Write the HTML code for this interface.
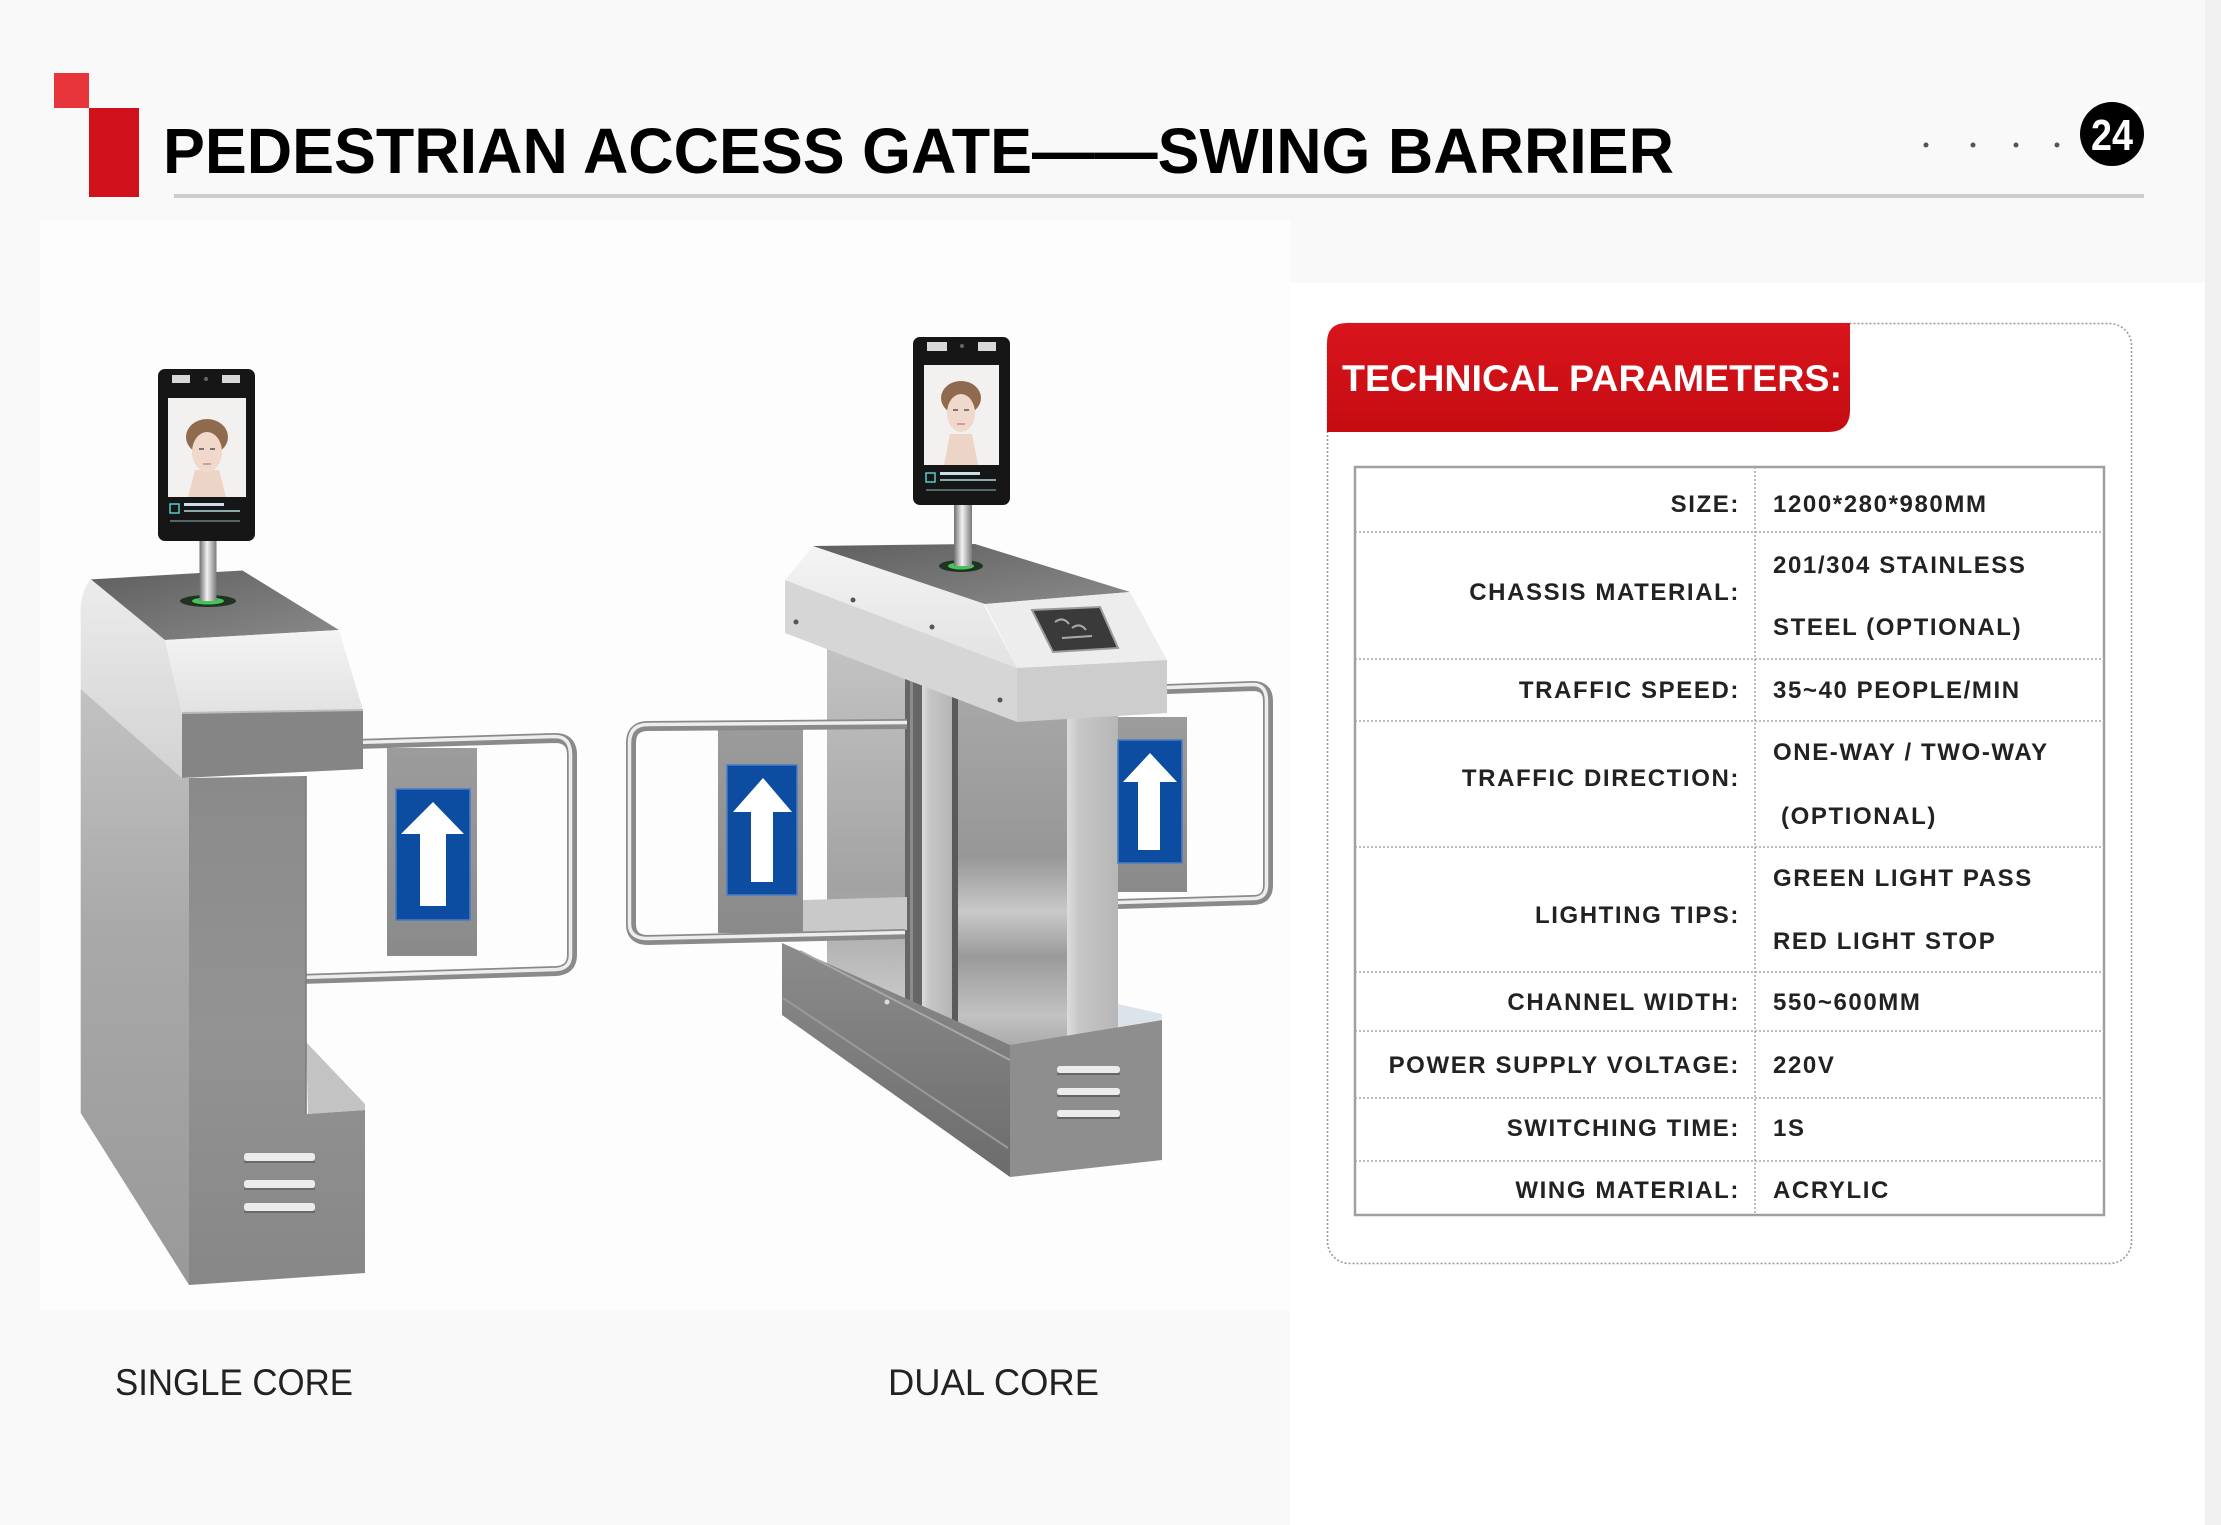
<!DOCTYPE html>
<html><head><meta charset="utf-8"><style>
html,body{margin:0;padding:0;background:#f9f9f9;}
svg{display:block;}
text{font-family:"Liberation Sans",Arial,sans-serif;}
</style></head><body>
<svg xmlns="http://www.w3.org/2000/svg" width="2221" height="1525" viewBox="0 0 2221 1525">
<defs>
<linearGradient id="gPole" x1="0" y1="0" x2="1" y2="0"><stop offset="0" stop-color="#6f6f6f"/><stop offset="0.45" stop-color="#f2f2f2"/><stop offset="1" stop-color="#7a7a7a"/></linearGradient>
<linearGradient id="gTop" x1="0" y1="0" x2="1" y2="1"><stop offset="0" stop-color="#5f5f5f"/><stop offset="1" stop-color="#8a8a8a"/></linearGradient>
<linearGradient id="gHouseL" x1="0" y1="579" x2="0" y2="780" gradientUnits="userSpaceOnUse"><stop offset="0" stop-color="#ececec"/><stop offset="1" stop-color="#d2d2d2"/></linearGradient>
<linearGradient id="gPillL" x1="0" y1="690" x2="0" y2="1285" gradientUnits="userSpaceOnUse"><stop offset="0" stop-color="#c2c2c2"/><stop offset="0.4" stop-color="#a9a9a9"/><stop offset="1" stop-color="#999"/></linearGradient>
<linearGradient id="gFront" x1="0" y1="776" x2="0" y2="1285" gradientUnits="userSpaceOnUse"><stop offset="0" stop-color="#8a8a8a"/><stop offset="0.5" stop-color="#939393"/><stop offset="1" stop-color="#878787"/></linearGradient>
<linearGradient id="gSlant" x1="0" y1="0" x2="0" y2="1"><stop offset="0" stop-color="#f4f4f4"/><stop offset="1" stop-color="#e2e2e2"/></linearGradient>
<linearGradient id="gPanel" x1="0" y1="0" x2="0" y2="1"><stop offset="0" stop-color="#9c9c9c"/><stop offset="1" stop-color="#8a8a8a"/></linearGradient>
<linearGradient id="gBig" x1="0" y1="690" x2="0" y2="1060" gradientUnits="userSpaceOnUse"><stop offset="0" stop-color="#a8a8a8"/><stop offset="0.45" stop-color="#979797"/><stop offset="0.6" stop-color="#c9c9c9"/><stop offset="0.72" stop-color="#9a9a9a"/><stop offset="0.88" stop-color="#c2c2c2"/><stop offset="1" stop-color="#a0a0a0"/></linearGradient>
<linearGradient id="gBack" x1="0" y1="640" x2="0" y2="1000" gradientUnits="userSpaceOnUse"><stop offset="0" stop-color="#c4c4c4"/><stop offset="0.7" stop-color="#a2a2a2"/><stop offset="1" stop-color="#c8c8c8"/></linearGradient>
<linearGradient id="gPost" x1="0" y1="0" x2="1" y2="0"><stop offset="0" stop-color="#dcdcdc"/><stop offset="0.25" stop-color="#c6c6c6"/><stop offset="1" stop-color="#b6b6b6"/></linearGradient>
<linearGradient id="gBaseL" x1="0" y1="943" x2="0" y2="1177" gradientUnits="userSpaceOnUse"><stop offset="0" stop-color="#8c8c8c"/><stop offset="1" stop-color="#6c6c6c"/></linearGradient>
<linearGradient id="gRed" x1="0" y1="0" x2="0" y2="1"><stop offset="0" stop-color="#d9141c"/><stop offset="1" stop-color="#c50c12"/></linearGradient>
</defs>

<!-- background -->
<rect x="0" y="0" width="2221" height="1525" fill="#f9f9f9"/>
<rect x="40" y="220" width="1250" height="1090" fill="#fdfdfd"/>
<rect x="1290" y="283" width="915" height="1242" fill="#ffffff"/>
<rect x="2205" y="0" width="16" height="1525" fill="#f0f0f0"/>

<!-- header -->
<rect x="54" y="73" width="35" height="35" fill="#e8353b"/>
<rect x="89" y="108" width="50" height="89" fill="#d0111b"/>
<text x="163" y="173" font-size="64" font-weight="bold" fill="#000" textLength="1511" lengthAdjust="spacingAndGlyphs">PEDESTRIAN ACCESS GATE——SWING BARRIER</text>
<rect x="174" y="194" width="1970" height="4" fill="#cdcdcd"/>
<circle cx="1926" cy="145" r="2.5" fill="#555"/>
<circle cx="1973" cy="145" r="2.5" fill="#555"/>
<circle cx="2016" cy="145" r="2.5" fill="#555"/>
<circle cx="2057" cy="145" r="2.5" fill="#555"/>
<circle cx="2112" cy="134" r="32" fill="#000"/>
<text x="2112" y="150" font-size="44" font-weight="bold" fill="#fff" text-anchor="middle" textLength="42" lengthAdjust="spacingAndGlyphs">24</text>
<text x="2135" y="118" font-size="18" font-weight="bold" fill="#fff">'</text>

<!-- ===== SINGLE CORE GATE ===== -->
<!-- arm -->
<path d="M355,744 L555,738 Q572,738 572,755 L572,955 Q572,970 556,971 L300,979" fill="none" stroke="#8a8a8a" stroke-width="10" stroke-linejoin="round"/>
<path d="M355,742.5 L555,736.5 Q570.5,736.5 570.5,755 L570.5,955 Q570.5,968.5 556,969.5 L300,977.5" fill="none" stroke="#ededed" stroke-width="3.5"/>
<rect x="387" y="748" width="90" height="208" fill="url(#gPanel)"/>
<rect x="396" y="789" width="74" height="131" fill="#0c4da2" stroke="#4a7cc4" stroke-width="1.5"/>
<polygon points="433,802 464,834 446,834 446,906 420,906 420,834 401,834" fill="#fff"/>

<!-- body -->
<path d="M91,579 L165,640 L182,713 L182,778 L80.7,689 L80.7,621 Q79,592 91,579 Z" fill="url(#gHouseL)"/>
<polygon points="80.7,689 182,778 189,778 189,1285 80.7,1113" fill="url(#gPillL)"/>
<polygon points="91,579.4 242.5,570.5 339,630 165,640" fill="url(#gTop)"/>
<polygon points="165,640 339,630 363,710 182,713" fill="url(#gSlant)"/>
<polygon points="182,713 363,710 363,769 182,778" fill="#858585"/>
<line x1="182" y1="713" x2="363" y2="710" stroke="#bcbcbc" stroke-width="2"/>
<polygon points="189,778 306,776 306,1114 365,1110 365,1273 189,1285" fill="url(#gFront)"/>
<polygon points="306,1042 365,1104 365,1110 308,1114" fill="#c3c3c3"/>
<line x1="306" y1="776" x2="306" y2="1114" stroke="#7a7a7a" stroke-width="1.5"/>
<rect x="244" y="1153" width="71" height="8" rx="3" fill="#ececec"/>
<rect x="244" y="1161" width="71" height="2" fill="#6a6a6a"/>
<rect x="244" y="1180" width="71" height="8" rx="3" fill="#ececec"/>
<rect x="244" y="1188" width="71" height="2" fill="#6a6a6a"/>
<rect x="244" y="1203" width="71" height="8" rx="3" fill="#ececec"/>
<rect x="244" y="1211" width="71" height="2" fill="#6a6a6a"/>
<!-- green light, pole, monitor -->
<ellipse cx="208" cy="601" rx="28" ry="6" fill="#1f3322"/>
<ellipse cx="208" cy="601" rx="16" ry="3.5" fill="#46c35a"/>
<rect x="199.5" y="538" width="17" height="63" fill="url(#gPole)"/>
<rect x="158" y="369" width="97" height="172" rx="7" fill="#161616"/>
<rect x="172" y="375" width="18" height="8" fill="#d8d8d8"/>
<rect x="222" y="375" width="18" height="8" fill="#d8d8d8"/>
<circle cx="206" cy="379" r="2" fill="#666"/>
<rect x="168" y="398" width="78" height="99" fill="#f3f1ef"/>
<polygon points="188,497 226,497 219,470 195,470" fill="#ecd4c6"/>
<ellipse cx="207" cy="437" rx="21" ry="18" fill="#8f6a4e"/>
<ellipse cx="207" cy="452" rx="15" ry="20" fill="#f0d8ca"/>
<line x1="199" y1="449" x2="204" y2="449" stroke="#555" stroke-width="1.5"/>
<line x1="210" y1="449" x2="215" y2="449" stroke="#555" stroke-width="1.5"/>
<line x1="203" y1="464" x2="211" y2="464" stroke="#c98a88" stroke-width="1.5"/>
<rect x="170" y="504" width="9" height="9" fill="none" stroke="#5cc" stroke-width="1.5"/>
<rect x="184" y="503" width="40" height="3" fill="#cde"/>
<rect x="184" y="510" width="56" height="2" fill="#8aa"/>
<rect x="170" y="520" width="70" height="2" fill="#566"/>

<!-- ===== DUAL CORE GATE ===== -->
<!-- back pillar & groove -->
<polygon points="827,640 905,660 905,1010 827,975" fill="url(#gBack)"/>
<rect x="905" y="660" width="17" height="350" fill="#666"/>
<rect x="910" y="660" width="3" height="350" fill="#8c8c8c"/>
<!-- left arm -->
<rect x="718" y="723" width="85" height="210" fill="url(#gPanel)"/>
<rect x="727" y="765" width="70" height="130" fill="#0c4da2" stroke="#4a7cc4" stroke-width="1.5"/>
<polygon points="763,778 792,812 773,812 773,882 751,882 751,812 733,812" fill="#fff"/>
<polygon points="803,900 907,897 907,930 803,933" fill="#c9c9c9"/>
<path d="M907,724 L648,726 Q631,726 631,743 L631,924 Q631,940 648,940 L905,934" fill="none" stroke="#8a8a8a" stroke-width="10" stroke-linejoin="round"/>
<path d="M907,722.5 L648,724.5 Q629.5,724.5 629.5,743 L629.5,924 Q629.5,938.5 648,938.5 L905,932.5" fill="none" stroke="#ededed" stroke-width="3.5"/>
<!-- central post, gap, big panel, front post -->
<rect x="922" y="670" width="30" height="390" fill="url(#gPost)"/>
<rect x="952" y="680" width="6" height="380" fill="#5a5a5a"/>
<rect x="958" y="690" width="109" height="370" fill="url(#gBig)"/>
<rect x="1067" y="712" width="51" height="348" fill="url(#gPost)"/>
<!-- right arm -->
<rect x="1118" y="717" width="69" height="175" fill="url(#gPanel)"/>
<rect x="1118" y="740" width="64" height="123" fill="#0c4da2" stroke="#4a7cc4" stroke-width="1.5"/>
<polygon points="1150,753 1177,782 1160,782 1160,850 1138,850 1138,782 1123,782" fill="#fff"/>
<path d="M1167,689 L1253,686 Q1268,686 1268,701 L1268,885 Q1268,900 1253,900 L1118,904" fill="none" stroke="#8a8a8a" stroke-width="10" stroke-linejoin="round"/>
<path d="M1167,687.5 L1253,684.5 Q1266.5,684.5 1266.5,701 L1266.5,885 Q1266.5,898.5 1253,898.5 L1118,902.5" fill="none" stroke="#ededed" stroke-width="3.5"/>
<!-- housing -->
<polygon points="785,580 1017,668 1017,722 785,633" fill="#d6d6d6"/>
<polygon points="813,546 983,603 1017,668 785,580" fill="url(#gSlant)"/>
<polygon points="813,546 975,544 1130,592 985,604" fill="url(#gTop)"/>
<polygon points="985,604 1130,592 1167,660 1017,668" fill="#ededed"/>
<polygon points="1017,668 1167,660 1167,713 1017,722" fill="#cdcdcd"/>
<polygon points="1032,610 1100,607 1118,648 1053,652" fill="#3a3a3a" stroke="#9a9a9a" stroke-width="2"/>
<path d="M1055,622 q8,-6 14,2 M1072,628 q8,-6 14,2 M1062,638 l30,-2" fill="none" stroke="#aaa" stroke-width="2"/>
<circle cx="796" cy="622" r="2.5" fill="#555"/>
<circle cx="853" cy="600" r="2.5" fill="#555"/>
<circle cx="932" cy="627" r="2.5" fill="#555"/>
<circle cx="1000" cy="700" r="2.5" fill="#555"/>
<!-- base -->
<polygon points="782,943 1010,1045 1010,1177 782,1015" fill="url(#gBaseL)"/>
<line x1="800" y1="951" x2="1010" y2="1060" stroke="#a8a8a8" stroke-width="2"/>
<line x1="783" y1="998" x2="1008" y2="1148" stroke="#9a9a9a" stroke-width="2"/>
<circle cx="887" cy="1002" r="2.5" fill="#ddd"/>
<polygon points="1010,1045 1162,1020 1162,1160 1010,1177" fill="#8e8e8e"/>
<polygon points="1118,1004 1162,1014 1162,1020 1118,1027" fill="#dde3ea"/>
<rect x="1057" y="1066" width="63" height="7" rx="3" fill="#ececec"/>
<rect x="1057" y="1073" width="63" height="2" fill="#666"/>
<rect x="1057" y="1088" width="63" height="7" rx="3" fill="#ececec"/>
<rect x="1057" y="1095" width="63" height="2" fill="#666"/>
<rect x="1057" y="1110" width="63" height="7" rx="3" fill="#ececec"/>
<rect x="1057" y="1117" width="63" height="2" fill="#666"/>
<!-- green light, pole, monitor -->
<ellipse cx="961" cy="566" rx="22" ry="6" fill="#1f3322"/>
<ellipse cx="961" cy="566" rx="13" ry="3.5" fill="#46c35a"/>
<rect x="954" y="502" width="18" height="64" fill="url(#gPole)"/>
<rect x="913" y="337" width="97" height="168" rx="7" fill="#161616"/>
<rect x="927" y="342" width="20" height="9" fill="#d8d8d8"/>
<rect x="978" y="342" width="18" height="9" fill="#d8d8d8"/>
<circle cx="962" cy="346" r="2" fill="#666"/>
<rect x="924" y="365" width="75" height="100" fill="#f3f1ef"/>
<polygon points="944,465 978,465 972,434 950,434" fill="#ecd4c6"/>
<ellipse cx="961" cy="398" rx="20" ry="17" fill="#8f6a4e"/>
<ellipse cx="961" cy="413" rx="14" ry="19" fill="#f0d8ca"/>
<line x1="953" y1="410" x2="958" y2="410" stroke="#555" stroke-width="1.5"/>
<line x1="964" y1="410" x2="969" y2="410" stroke="#555" stroke-width="1.5"/>
<line x1="957" y1="424" x2="965" y2="424" stroke="#c98a88" stroke-width="1.5"/>
<rect x="926" y="473" width="9" height="9" fill="none" stroke="#5cc" stroke-width="1.5"/>
<rect x="940" y="472" width="40" height="3" fill="#cde"/>
<rect x="940" y="479" width="56" height="2" fill="#8aa"/>
<rect x="926" y="489" width="70" height="2" fill="#566"/>

<!-- labels -->
<text x="115" y="1395" font-size="37" fill="#222" textLength="238" lengthAdjust="spacingAndGlyphs">SINGLE CORE</text>
<text x="888" y="1395" font-size="37" fill="#222" textLength="211" lengthAdjust="spacingAndGlyphs">DUAL CORE</text>

<!-- ===== PARAMETER PANEL ===== -->
<rect x="1327.5" y="323.5" width="804" height="940" rx="22" fill="none" stroke="#9a9a9a" stroke-width="1.6" stroke-dasharray="2,2"/>
<path d="M1327,343 Q1327,323 1347,323 L1850,323 L1850,410 Q1850,432 1828,432 L1327,432 Z" fill="url(#gRed)"/>
<text x="1342" y="391" font-size="37" font-weight="bold" fill="#fff" textLength="500" lengthAdjust="spacingAndGlyphs">TECHNICAL PARAMETERS:</text>

<rect x="1355" y="467" width="749" height="748" fill="#fff" stroke="#a0a0a0" stroke-width="2.5"/>
<g stroke="#a8a8a8" stroke-width="1.5" stroke-dasharray="2,2">
<line x1="1755" y1="467" x2="1755" y2="1215"/>
<line x1="1355" y1="532" x2="2104" y2="532"/>
<line x1="1355" y1="659" x2="2104" y2="659"/>
<line x1="1355" y1="721" x2="2104" y2="721"/>
<line x1="1355" y1="847" x2="2104" y2="847"/>
<line x1="1355" y1="972" x2="2104" y2="972"/>
<line x1="1355" y1="1031" x2="2104" y2="1031"/>
<line x1="1355" y1="1098" x2="2104" y2="1098"/>
<line x1="1355" y1="1161" x2="2104" y2="1161"/>
</g>
<g font-size="24" font-weight="bold" fill="#222" letter-spacing="1.6" text-anchor="end">
<text x="1740" y="512">SIZE:</text>
<text x="1740" y="600">CHASSIS MATERIAL:</text>
<text x="1740" y="698">TRAFFIC SPEED:</text>
<text x="1740" y="786">TRAFFIC DIRECTION:</text>
<text x="1740" y="923">LIGHTING TIPS:</text>
<text x="1740" y="1010">CHANNEL WIDTH:</text>
<text x="1740" y="1073">POWER SUPPLY VOLTAGE:</text>
<text x="1740" y="1136">SWITCHING TIME:</text>
<text x="1740" y="1198">WING MATERIAL:</text>
</g>
<g font-size="24" font-weight="bold" fill="#222" letter-spacing="1.6">
<text x="1773" y="512">1200*280*980MM</text>
<text x="1773" y="573">201/304 STAINLESS</text>
<text x="1773" y="635">STEEL (OPTIONAL)</text>
<text x="1773" y="698">35~40 PEOPLE/MIN</text>
<text x="1773" y="760">ONE-WAY / TWO-WAY</text>
<text x="1781" y="824">(OPTIONAL)</text>
<text x="1773" y="886">GREEN LIGHT PASS</text>
<text x="1773" y="949">RED LIGHT STOP</text>
<text x="1773" y="1010">550~600MM</text>
<text x="1773" y="1073">220V</text>
<text x="1773" y="1136">1S</text>
<text x="1773" y="1198">ACRYLIC</text>
</g>
</svg>
</body></html>
